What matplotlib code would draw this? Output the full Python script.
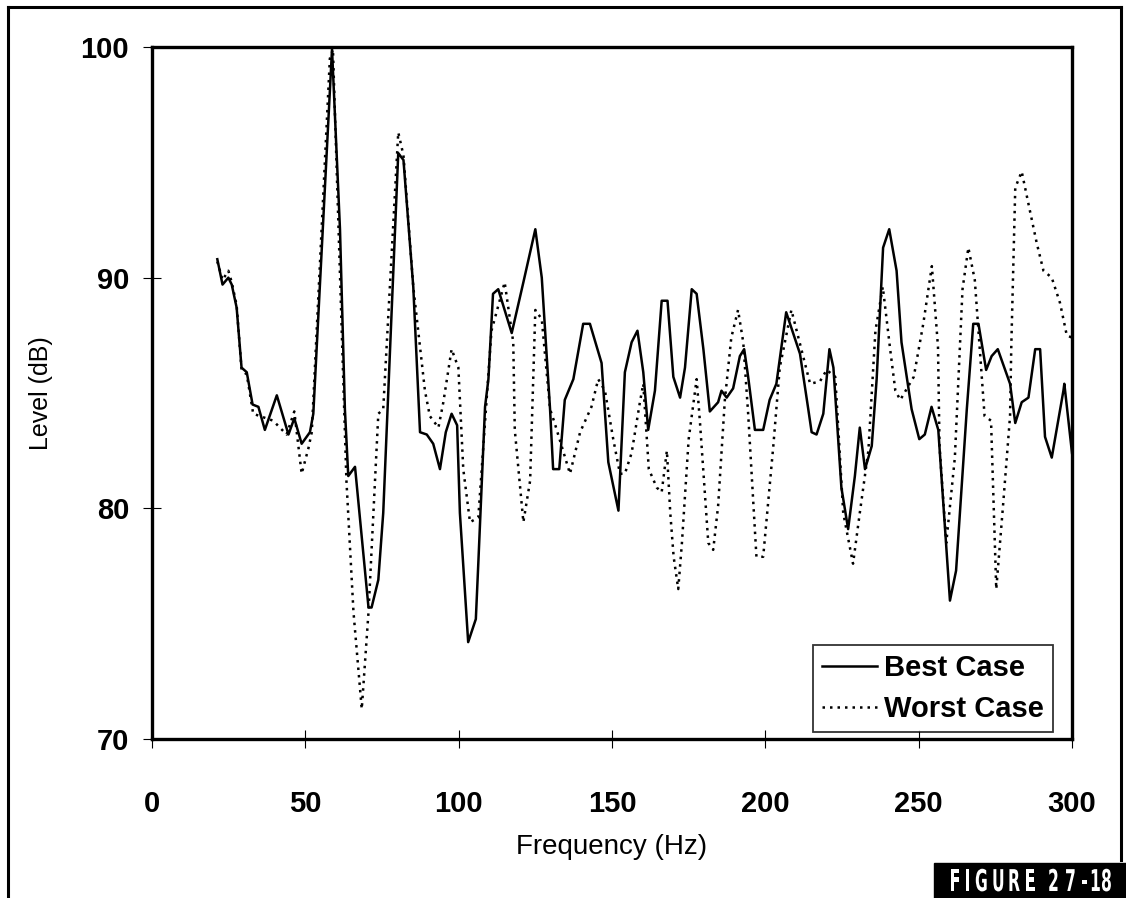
import matplotlib
matplotlib.use('Agg')
import matplotlib.pyplot as plt
from matplotlib.lines import Line2D
from matplotlib.patches import Rectangle, PathPatch
from matplotlib.textpath import TextPath
from matplotlib.font_manager import FontProperties
from matplotlib.transforms import Affine2D

plt.rcParams['font.family'] = ['Liberation Sans', 'DejaVu Sans']

# values
best_freq = [21.3, 23.0, 24.9, 26.0, 27.6, 29.2, 30.9, 32.8, 34.7, 36.8, 40.7, 44.5, 46.4, 48.8,
             51.5, 52.6, 58.7, 61.3, 62.9, 64.0, 66.2, 70.6, 71.6, 73.8, 75.4, 80.3, 82.0, 85.2,
             87.4, 89.6, 91.7, 93.9, 95.8, 97.7, 99.5, 100.4, 103.1, 105.6, 106.4, 108.6, 109.7,
             111.2, 112.9, 117.3, 121.1, 125.0, 127.1, 129.8, 130.8, 132.8, 134.6, 137.4, 140.6,
             142.8, 146.6, 148.8, 152.1, 154.2, 156.4, 158.3, 160.2, 161.8, 164.0, 166.2, 168.1,
             170.0, 172.2, 173.8, 176.0, 177.6, 179.8, 181.9, 184.6, 185.7, 187.4, 189.5, 191.7,
             193.1, 194.4, 196.6, 199.3, 201.4, 203.6, 206.8, 211.3, 214.0, 215.1, 216.7, 218.9,
             220.9, 222.2, 224.8, 227.0, 229.2, 230.8, 232.5, 234.7, 236.3, 238.4, 240.4, 242.8,
             244.4, 247.7, 250.2, 252.0, 254.2, 256.4, 260.2, 262.2, 265.7, 267.8, 269.5, 272.0,
             273.8, 275.8, 279.8, 281.5, 283.6, 285.8, 288.0, 289.6, 291.2, 293.4, 297.2, 297.5,
             300.0]
best_level = [90.8, 89.7, 90.0, 89.7, 88.7, 86.1, 85.9, 84.5, 84.4, 83.4, 84.9, 83.2, 83.9, 82.8,
              83.3, 84.1, 99.9, 92.1, 84.3, 81.4, 81.8, 75.7, 75.7, 76.9, 79.8, 95.4, 95.1, 89.6,
              83.3, 83.2, 82.8, 81.7, 83.3, 84.1, 83.6, 79.8, 74.2, 75.2, 77.6, 84.4, 85.6,
              89.3, 89.5, 87.6, 89.8, 92.1, 90.0, 84.3, 81.7, 81.7, 84.7, 85.6, 88.0,
              88.0, 86.3, 82.0, 79.9, 85.9, 87.2, 87.7, 85.9, 83.4, 85.1, 89.0, 89.0,
              85.7, 84.8, 86.1, 89.5, 89.3, 86.9, 84.2, 84.6, 85.1, 84.8, 85.2, 86.6,
              86.9, 85.7, 83.4, 83.4, 84.7, 85.4, 88.5, 86.7, 84.3, 83.3, 83.2, 84.1,
              86.9, 86.1, 80.9, 79.1, 81.4, 83.5, 81.7, 82.7, 85.6, 91.3, 92.1, 90.3,
              87.2, 84.3, 83.0, 83.2, 84.4, 83.4, 76.0, 77.3, 84.3, 88.0, 88.0, 86.0,
              86.6, 86.9, 85.4, 83.7, 84.6, 84.8, 86.9, 86.9, 83.1, 82.2, 85.1, 85.4,
              82.4]

worst_freq = [21.3, 23.0, 24.9, 26.0, 27.6, 29.2, 30.9, 33.0, 39.5, 43.9, 46.4, 48.8, 51.0,
              52.1, 58.0, 59.0, 63.4, 65.7, 68.4, 70.6, 73.8, 75.4, 80.3, 82.0, 85.2, 89.0,
              90.6, 93.4, 95.0, 97.7, 99.9, 101.5, 103.7, 106.4, 110.7, 115.0, 117.8, 118.3,
              121.1, 123.3, 125.0, 127.1, 129.8, 131.3, 136.3, 139.6, 143.3, 145.5, 147.7,
              150.4, 152.6, 154.2, 156.4, 159.1, 160.2, 162.0, 164.6, 166.2, 167.9, 169.0,
              170.1, 171.6, 172.8, 175.0, 177.6, 178.7, 181.4, 183.0, 184.6, 186.8, 188.9,
              191.1, 192.8, 194.4, 197.1, 199.3, 202.6, 204.7, 208.5, 214.6, 217.8, 220.0,
              222.8, 225.4, 228.6, 230.8, 233.6, 235.9, 238.3, 240.7, 242.4, 244.0, 248.4,
              251.5, 254.3, 256.3, 256.8, 259.0, 261.8, 264.3, 266.2, 268.3, 271.5, 273.6,
              275.3, 277.5, 279.8, 280.2, 281.5, 283.6, 285.8, 288.5, 290.7, 293.4, 296.1,
              298.3, 300.0]
worst_level = [90.7, 89.9, 90.3, 89.8, 88.8, 86.0, 85.8, 84.1, 83.8, 83.2, 84.2, 81.5, 82.6,
               83.3, 99.5, 99.9, 81.2, 75.5, 71.3, 75.5, 84.1, 84.3, 96.3, 95.3, 89.6, 85.1,
               84.0, 83.5, 84.6, 86.9, 86.1, 81.7, 79.4, 79.6, 87.7, 89.8, 87.2, 83.4,
               79.4, 81.2, 88.6, 88.2, 84.3, 83.7, 81.5, 83.3, 84.4, 85.6, 85.1,
               83.0, 81.5, 81.5, 82.4, 84.6, 85.4, 81.7, 80.9, 80.7, 82.5, 79.8,
               77.9, 76.5, 78.5, 83.0, 85.6, 83.7, 78.5, 78.2, 80.1, 84.7, 87.4,
               88.6, 87.2, 84.1, 77.9, 77.9, 82.7, 86.1, 88.6, 85.4, 85.5, 86.0,
               85.7, 79.8, 77.6, 79.8, 82.5, 87.7, 89.6, 86.9, 85.1, 84.7, 85.7,
               88.0, 90.5, 87.0, 82.7, 78.5, 82.2, 89.5, 91.3, 89.9, 84.0, 83.8,
               76.5, 80.1, 84.0, 87.0, 93.9, 94.6, 93.2, 91.5, 90.3, 90.0, 88.9,
               87.5, 87.4]

x_ticks = [0, 50, 100, 150, 200, 250, 300]
y_ticks = [70, 80, 90, 100]
tag_chars = ['F', 'I', 'G', 'U', 'R', 'E', '2', '7', '-', '1', '8']

W, H = 1126, 898
fig = plt.figure(figsize=(W / 100, H / 100), dpi=100)
ax = fig.add_axes([152 / W, 1 - 739 / H, 920 / W, 692 / H])

ax.plot(best_freq, best_level, color='black', lw=1.8, label='Best Case')
ax.plot(worst_freq, worst_level, color='black', lw=1.8, linestyle=(0, (1, 2)), label='Worst Case')

ax.set_xlim(0, 300)
ax.set_ylim(70, 100)
ax.set_xticks(x_ticks)
ax.set_yticks(y_ticks)
ax.tick_params(direction='inout', length=13, width=0.8, labelsize=21)
ax.tick_params(axis='x', pad=30)
ax.tick_params(axis='y', pad=10)
for lab in ax.get_xticklabels() + ax.get_yticklabels():
    lab.set_fontweight('bold')
for s in ax.spines.values():
    s.set_linewidth(2.4)

ax.set_xlabel('Frequency (Hz)', fontsize=20, labelpad=12)
ax.set_ylabel('Level (dB)', fontsize=18, labelpad=20)

leg = ax.legend(loc='lower right', bbox_to_anchor=(1053 / W, 1 - 732 / H),
                bbox_transform=fig.transFigure, borderaxespad=0,
                prop={'size': 21, 'weight': 'bold'}, frameon=True, fancybox=False,
                handlelength=1.9, handletextpad=0.25, borderpad=0.3, labelspacing=0.45)
leg.get_frame().set_edgecolor('black')
leg.get_frame().set_linewidth(1.3)

# outer frame and figure tag
fig.add_artist(Line2D([8 / W, 8 / W], [0, 1 - 7 / H], color='black', lw=2.2,
                      transform=fig.transFigure))
fig.add_artist(Line2D([8 / W, 1121 / W], [1 - 7 / H, 1 - 7 / H], color='black', lw=2.2,
                      transform=fig.transFigure))
fig.add_artist(Line2D([1121 / W, 1121 / W], [1 - 7 / H, 1 - 860 / H], color='black', lw=2.2,
                      transform=fig.transFigure))
fig.add_artist(Rectangle((934 / W, 0), 192 / W, 35 / H, color='black',
                         transform=fig.transFigure))

# condensed lettering for the tag, drawn glyph by glyph in pixel space
tag_x = [950, 965, 975, 992, 1008, 1025, 1048, 1065, 1081, 1090, 1101]
fp = FontProperties(family='DejaVu Sans', weight='bold')
for ch, px in zip(tag_chars, tag_x):
    tp = TextPath((0, 0), ch, size=30, prop=fp)
    tr = Affine2D().scale(0.52, 1.0).translate(px, H - 891)
    fig.add_artist(PathPatch(tp, transform=tr, facecolor='white', edgecolor='none'))

fig.savefig('out.png', dpi=100)
